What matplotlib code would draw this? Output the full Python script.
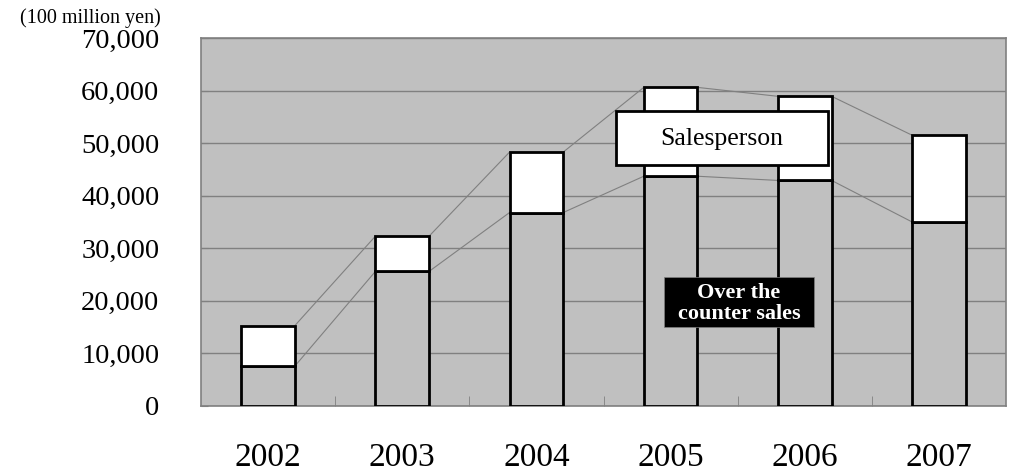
import matplotlib.pyplot as plt
from matplotlib.patches import Rectangle
from matplotlib.ticker import FuncFormatter, FixedLocator
import numpy as np

years = ["2002", "2003", "2004", "2005", "2006", "2007"]
counter_sales = [7600, 25600, 36800, 43700, 42900, 35000]
salesperson = [7700, 6700, 11500, 16900, 16000, 16500]
y_ticks = [0, 10000, 20000, 30000, 40000, 50000, 60000, 70000]

plt.rcParams["font.family"] = ["Liberation Serif", "DejaVu Serif"]

fig = plt.figure(figsize=(10.11, 4.74), dpi=100)
ax = fig.add_axes([0.1988, 0.1435, 0.7963, 0.7764])

x = np.arange(len(years))
w = 0.4
totals = [a + b for a, b in zip(counter_sales, salesperson)]

ax.set_facecolor("#c0c0c0")
ax.set_axisbelow(True)
ax.grid(axis="y", color="#808080", linewidth=1)

ax.bar(x, counter_sales, width=w, color="#c0c0c0", edgecolor="black", linewidth=2, zorder=3)
ax.bar(x, salesperson, width=w, bottom=counter_sales, color="white",
       edgecolor="black", linewidth=2, zorder=3)

# series lines between bars
for i in range(len(years) - 1):
    for level in (counter_sales, totals):
        ax.plot([x[i] + w / 2, x[i + 1] - w / 2], [level[i], level[i + 1]],
                color="#808080", linewidth=0.8, zorder=2)

ax.set_xlim(-0.5, len(years) - 0.5)
ax.set_ylim(0, 70000)
ax.set_yticks(y_ticks)
ax.yaxis.set_major_formatter(FuncFormatter(lambda v, p: f"{int(v):,}"))
ax.set_xticks(x)
ax.set_xticklabels(years)
ax.xaxis.set_minor_locator(FixedLocator(x[:-1] + 0.5))
ax.tick_params(axis="x", which="major", length=0, labelsize=24, pad=26)
ax.tick_params(axis="x", which="minor", direction="in", length=7, color="#808080")
ax.tick_params(axis="y", direction="in", length=5, color="#808080", labelsize=20.5, pad=30)

for s in ax.spines.values():
    s.set_color("#808080")
    s.set_linewidth(1.2)

fig.text(0.02, 0.962, "(100 million yen)", fontsize=14.5, ha="left", va="center")

# labels
ax.add_patch(Rectangle((2.593, 45770), 1.58, 10300, facecolor="white",
                       edgecolor="black", linewidth=2, zorder=5))
ax.text(3.383, 50700, "Salesperson", ha="center", va="center", fontsize=18.5, zorder=6)
ax.add_patch(Rectangle((2.951, 15070), 1.118, 9530, facecolor="black",
                       edgecolor="#808080", linewidth=0.5, zorder=5))
ax.text(3.51, 19550, "Over the\ncounter sales", ha="center", va="center",
        fontsize=16, fontweight="bold", color="white", linespacing=1.05, zorder=6)

fig.savefig("out.png", dpi=100)
